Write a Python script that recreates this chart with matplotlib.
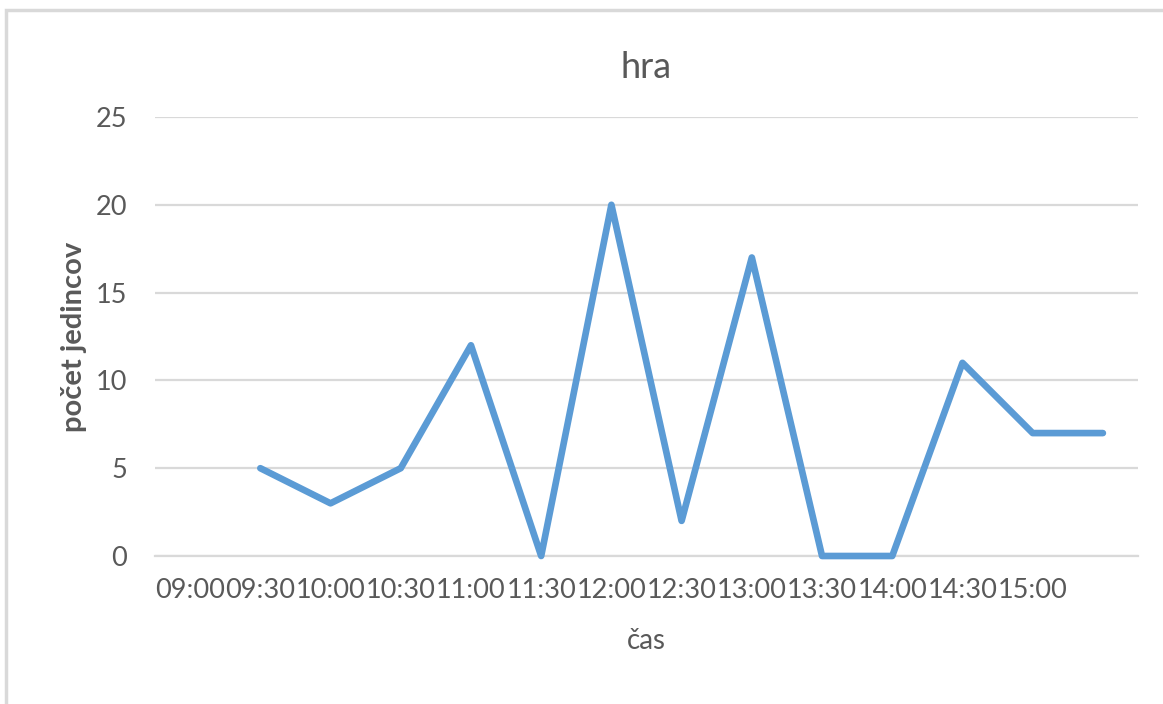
import matplotlib.pyplot as plt
from matplotlib.patches import Rectangle

# -------------------------------
# Data
# -------------------------------
time_labels = ["09:00", "09:30", "10:00", "10:30", "11:00", "11:30", "12:00",
               "12:30", "13:00", "13:30", "14:00", "14:30", "15:00"]
# first category is empty, values start one slot later
counts = [5, 3, 5, 12, 0, 20, 2, 17, 0, 0, 11, 7, 7]
y_ticks = [0, 5, 10, 15, 20, 25]

plt.rcParams['font.family'] = ['Lato', 'DejaVu Sans']
gray = "#595959"

fig = plt.figure(figsize=(11.63, 7.04), dpi=100)
ax = fig.add_axes([155 / 1163, 1 - 556 / 704, (1138 - 155) / 1163, (556 - 117) / 704])

# frame around the chart
fig.patches.append(Rectangle((6 / 1163, -0.1), 1.2, 1 - 10.5 / 704 + 0.1,
                             transform=fig.transFigure, fill=False,
                             edgecolor="#D9D9D9", linewidth=2.5))

x = list(range(1, len(counts) + 1))
ax.plot(x, counts, color="#5B9BD5", linewidth=4.8, solid_joinstyle="round",
        solid_capstyle="round", clip_on=False, zorder=3)

ax.set_xlim(-0.5, len(counts) + 0.5)
ax.set_ylim(0, 25)
ax.set_yticks(y_ticks)
ax.set_xticks(range(len(time_labels)))
ax.set_xticklabels(time_labels)
ax.tick_params(length=0, labelsize=19.5, labelcolor=gray)
ax.tick_params(axis="x", pad=16)
ax.tick_params(axis="y", pad=20)

ax.grid(axis="y", color="#D9D9D9", linewidth=1.6)
ax.set_axisbelow(True)
for s in ["top", "right", "left"]:
    ax.spines[s].set_visible(False)
ax.spines["bottom"].set_color("#D9D9D9")
ax.spines["bottom"].set_linewidth(1.6)

ax.set_title("hra", fontsize=26, color=gray, pad=28)
ax.set_xlabel("čas", fontsize=20, color=gray, labelpad=18)
ax.set_ylabel("počet jedincov", fontsize=21, color=gray, fontweight="bold", labelpad=6)

fig.savefig("out.png", dpi=100)
